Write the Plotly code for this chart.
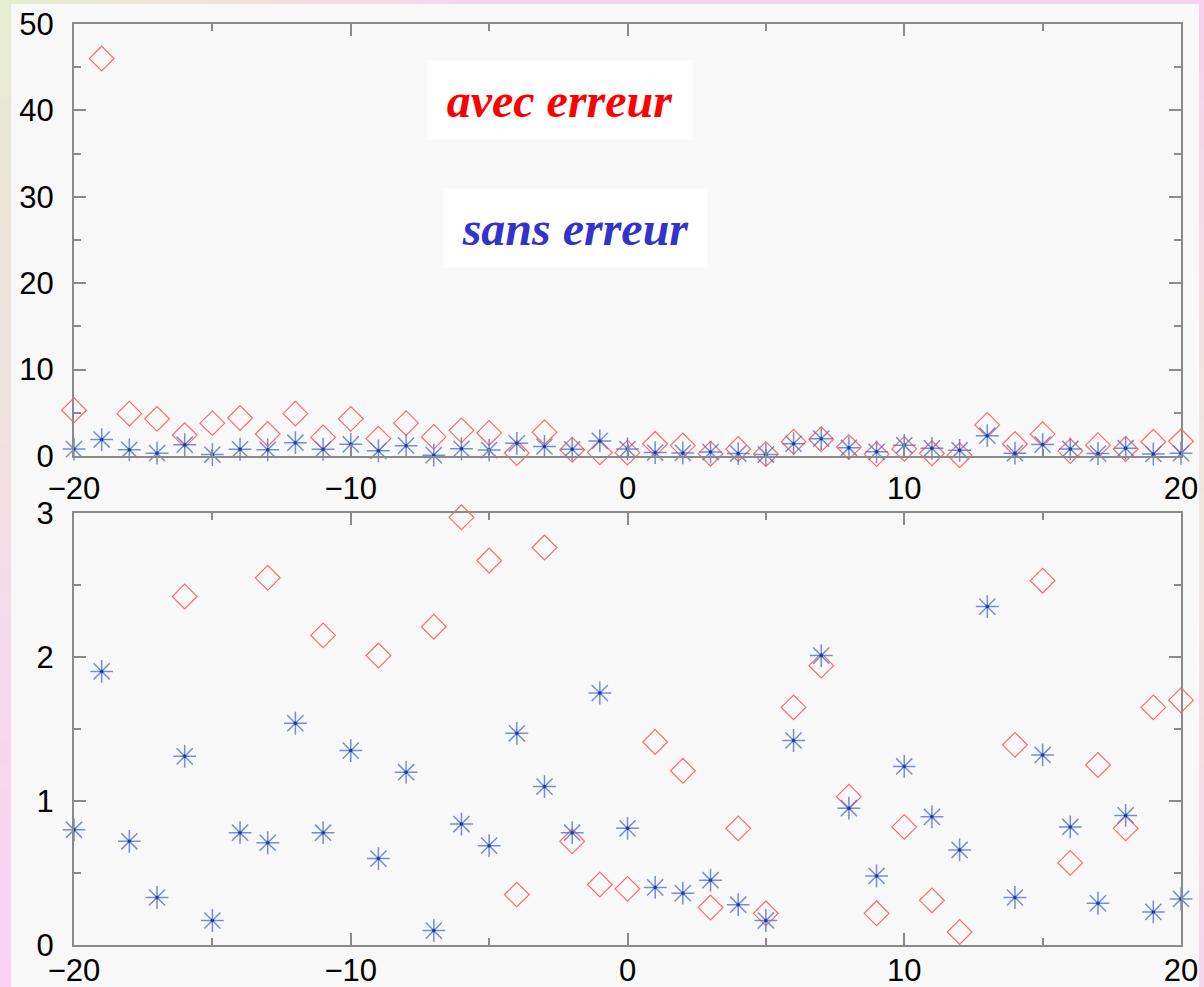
import numpy as np
import plotly.graph_objects as go

# ---- data -------------------------------------------------------------
x_vals = list(range(-20, 21))

# "avec erreur" (red diamonds)
avec_erreur = [5.3, 46.0, 4.9, 4.3, 2.42, 3.8, 4.4, 2.55, 4.9, 2.15,
               4.3, 2.01, 3.8, 2.21, 2.97, 2.67, 0.35, 2.76, 0.72, 0.42,
               0.39, 1.41, 1.21, 0.26, 0.81, 0.22, 1.65, 1.94, 1.03, 0.22,
               0.82, 0.31, 0.09, 3.6, 1.39, 2.53, 0.57, 1.25, 0.81, 1.65,
               1.70]

# "sans erreur" (blue asterisks)
sans_erreur = [0.80, 1.90, 0.72, 0.33, 1.31, 0.17, 0.78, 0.71, 1.54, 0.78,
               1.35, 0.60, 1.20, 0.10, 0.84, 0.69, 1.47, 1.10, 0.78, 1.75,
               0.81, 0.40, 0.36, 0.45, 0.28, 0.17, 1.42, 2.01, 0.95, 0.48,
               1.24, 0.89, 0.66, 2.35, 0.33, 1.32, 0.82, 0.29, 0.90, 0.23,
               0.32]

x_ticks = [-20, -10, 0, 10, 20]
x_tick_text = ["\u221220", "\u221210", "0", "10", "20"]
top_range = [0, 50]
zoom_range = [0, 3]

# ---- geometry (pixels) ------------------------------------------------
W, H = 1204, 987
L, R, T, B = 74, 23, 24, 42
PW, PH = W - L - R, H - T - B


def px(xp):
    return (xp - L) / PW


def py(yp):
    return (H - B - yp) / PH


RED = "#ff6a6a"
BLUE_LINE = "rgba(80,115,205,0.8)"
BLUE_DOT = "#1c3a98"


def in_range(vals, rng):
    return [v if rng[0] <= v <= rng[1] else None for v in vals]


fig = go.Figure()

for ax_x, ax_y, rng in (("x", "y", top_range), ("x2", "y2", zoom_range)):
    red = in_range(avec_erreur, rng)
    blue = in_range(sans_erreur, rng)
    fig.add_trace(go.Scatter(
        x=x_vals, y=red, mode="markers", xaxis=ax_x, yaxis=ax_y,
        cliponaxis=False, showlegend=False,
        marker=dict(symbol="diamond-open", size=19, color=RED,
                    line=dict(width=1.2, color=RED))))
    fig.add_trace(go.Scatter(
        x=x_vals, y=blue, mode="markers", xaxis=ax_x, yaxis=ax_y,
        cliponaxis=False, showlegend=False,
        marker=dict(symbol="asterisk-open", size=19, color=BLUE_LINE,
                    line=dict(width=1.5, color=BLUE_LINE))))
    fig.add_trace(go.Scatter(
        x=x_vals, y=blue, mode="markers", xaxis=ax_x, yaxis=ax_y,
        cliponaxis=False, showlegend=False,
        marker=dict(symbol="circle", size=3.5, color=BLUE_DOT)))

tick_font = dict(family="Liberation Sans, Arial, sans-serif", size=31,
                 color="black")
AXC = "#8a8a8a"


def x_axis(anchor, standoff):
    return dict(domain=[0, 1], anchor=anchor, range=[-20, 20],
                tickvals=x_ticks, ticktext=x_tick_text,
                ticks="inside", ticklen=12, tickwidth=2, tickcolor=AXC,
                minor=dict(dtick=5, ticks="inside", ticklen=7, tickwidth=2,
                           tickcolor=AXC),
                showline=True, linecolor=AXC, linewidth=2, mirror="ticks",
                showgrid=False, zeroline=False, tickfont=tick_font,
                ticklabelstandoff=standoff, automargin=False)


def y_axis(domain, rng, major, minor):
    return dict(domain=domain, range=rng, dtick=major,
                ticks="inside", ticklen=12, tickwidth=2, tickcolor=AXC,
                minor=dict(dtick=minor, ticks="inside", ticklen=7,
                           tickwidth=2, tickcolor=AXC),
                showline=True, linecolor=AXC, linewidth=2, mirror="ticks",
                showgrid=False, zeroline=False, tickfont=tick_font,
                ticklabelstandoff=12, automargin=False)


fig.update_layout(
    width=W, height=H,
    margin=dict(l=L, r=R, t=T, b=B, autoexpand=False),
    paper_bgcolor="#f8f8f8",
    plot_bgcolor="#f8f8f8",
    xaxis=x_axis("y", 4),
    xaxis2=x_axis("y2", -3),
    yaxis=y_axis([py(456), 1], top_range, 10, 5),
    yaxis2=y_axis([0, py(513)], zoom_range, 1, 0.5),
)

# ---- soft gradient frame around the panel ------------------------------
def mix(c1, c2, t):
    a = np.array([int(c1[i:i + 2], 16) for i in (1, 3, 5)], float)
    b = np.array([int(c2[i:i + 2], 16) for i in (1, 3, 5)], float)
    c = np.round(a + (b - a) * t).astype(int)
    return "rgb(%d,%d,%d)" % tuple(c)


shapes = []
steps = 40
# left strip: green-ish at the top fading to pink at the bottom
for i in range(steps):
    y0 = i * H / steps
    y1 = (i + 1) * H / steps + 1
    shapes.append(dict(type="rect", xref="paper", yref="paper",
                       x0=px(0), x1=px(11), y0=py(y1), y1=py(y0),
                       line=dict(width=0), layer="above",
                       fillcolor=mix("#e6ecd0", "#fcd0f6", i / (steps - 1))))
# top strip: green-ish at the left fading to pink at the right
for i in range(steps):
    x0 = i * W / steps
    x1 = (i + 1) * W / steps + 1
    t = min(1.0, i / (steps * 0.4))
    shapes.append(dict(type="rect", xref="paper", yref="paper",
                       x0=px(x0), x1=px(x1), y0=py(4), y1=py(0),
                       line=dict(width=0), layer="above",
                       fillcolor=mix("#e6ecd0", "#f5d3ea", t)))
# right strip
for i in range(steps):
    y0 = i * H / steps
    y1 = (i + 1) * H / steps + 1
    t = i / (steps - 1)
    col = mix("#f6d2ec", "#efe8de", min(1, t * 2)) if t < 0.5 else \
        mix("#efe8de", "#f6d6ea", (t - 0.5) * 2)
    shapes.append(dict(type="rect", xref="paper", yref="paper",
                       x0=px(1199), x1=px(W), y0=py(y1), y1=py(y0),
                       line=dict(width=0), layer="above", fillcolor=col))
fig.update_layout(shapes=shapes)

# ---- labels -------------------------------------------------------------
label_font = "Liberation Serif, Times New Roman, serif"
fig.add_annotation(xref="paper", yref="paper", x=px(427), y=py(60),
                   xanchor="left", yanchor="top", width=264, height=78,
                   showarrow=False, bgcolor="white", borderpad=0,
                   text="<b><i>avec erreur</i></b>",
                   font=dict(family=label_font, size=48, color="#ff0000"))
fig.add_annotation(xref="paper", yref="paper", x=px(443), y=py(188),
                   xanchor="left", yanchor="top", width=263, height=78,
                   showarrow=False, bgcolor="white", borderpad=0,
                   text="<b><i>sans erreur</i></b>",
                   font=dict(family=label_font, size=48, color="#3333cc"))

fig.write_html("out.html")
